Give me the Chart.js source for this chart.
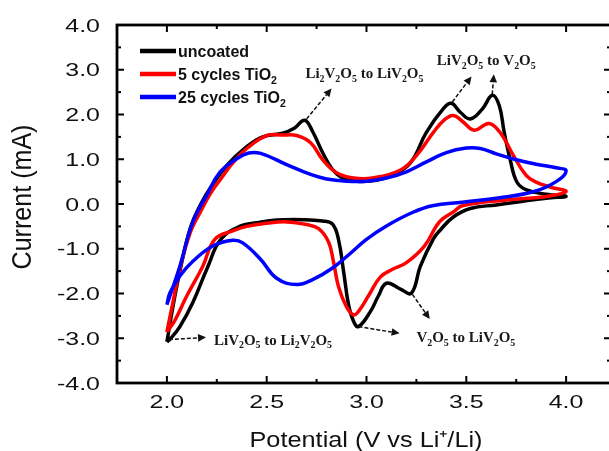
<!DOCTYPE html>
<html>
<head>
<meta charset="utf-8">
<script src="https://cdn.jsdelivr.net/npm/chart.js@4/dist/chart.umd.min.js"></script>
<style>
  html, body { margin: 0; padding: 0; overflow: hidden; background: #fff; }
</style>
</head>
<body>
<canvas id="cvChart" width="613" height="451"></canvas>
<script>
// values: potential (V) and current (mA), one closed loop per sample
const uncoatedV = [2.00, 2.03, 2.07, 2.12, 2.17, 2.215, 2.30, 2.40, 2.48, 2.58, 2.64, 2.69, 2.73, 2.78, 2.83, 2.88, 2.95, 3.05, 3.13, 3.22,
  3.30, 3.385, 3.425, 3.47, 3.52, 3.58, 3.63, 3.665, 3.69, 3.72, 3.755, 3.805, 3.90, 4.00,
  3.90, 3.75, 3.65, 3.52, 3.435, 3.37, 3.335, 3.27, 3.225, 3.17, 3.10, 3.06, 3.02, 2.96, 2.935, 2.91, 2.885, 2.86, 2.83, 2.78,
  2.68, 2.55, 2.45, 2.37, 2.27, 2.206, 2.13, 2.065, 2.02, 2.00]
const uncoatedI = [-3.08, -2.30, -1.40, -0.50, 0.00, 0.34, 0.86, 1.28, 1.50, 1.58, 1.70, 1.87, 1.62, 1.15, 0.77, 0.58, 0.51, 0.53, 0.65, 0.92,
  1.60, 2.13, 2.25, 2.05, 1.90, 2.12, 2.43, 2.20, 1.60, 0.99, 0.48, 0.31, 0.22, 0.17,
  0.13, 0.04, -0.02, -0.10, -0.29, -0.58, -0.78, -1.39, -1.99, -1.90, -1.77, -2.05, -2.40, -2.74, -2.62, -2.25, -1.50, -0.80, -0.45, -0.38,
  -0.35, -0.36, -0.42, -0.49, -0.79, -1.39, -2.20, -2.74, -3.00, -3.08]

const fiveCycleV = [2.00, 2.03, 2.07, 2.12, 2.165, 2.22, 2.27, 2.33, 2.40, 2.50, 2.58, 2.65, 2.72, 2.78, 2.85, 2.935, 3.03, 3.17, 3.25, 3.335,
  3.39, 3.435, 3.48, 3.54, 3.61, 3.65, 3.69, 3.735, 3.80, 3.85, 3.92, 4.00,
  3.90, 3.70, 3.48, 3.435, 3.38, 3.35, 3.29, 3.20, 3.13, 3.07, 3.01, 2.96, 2.935, 2.90, 2.86, 2.835, 2.81, 2.76, 2.70, 2.60,
  2.50, 2.40, 2.33, 2.24, 2.18, 2.10, 2.04, 2.00]
const fiveCycleI = [-2.86, -2.20, -1.35, -0.60, -0.20, 0.25, 0.56, 0.92, 1.24, 1.53, 1.54, 1.53, 1.37, 0.99, 0.70, 0.58, 0.58, 0.76, 1.08, 1.60,
  1.88, 1.98, 1.85, 1.65, 1.80, 1.70, 1.46, 1.09, 0.64, 0.49, 0.38, 0.28,
  0.17, 0.09, -0.04, -0.18, -0.34, -0.49, -0.94, -1.31, -1.46, -1.63, -2.05, -2.40, -2.48, -2.30, -1.85, -1.30, -0.85, -0.55, -0.46, -0.40,
  -0.43, -0.50, -0.60, -0.79, -1.39, -2.05, -2.60, -2.86]

const twentyFiveV = [2.00, 2.065, 2.13, 2.20, 2.266, 2.35, 2.41, 2.47, 2.60, 2.72, 2.80, 2.90, 3.00, 3.10, 3.20, 3.30, 3.40, 3.50, 3.57, 3.65,
  3.75, 3.85, 3.95, 4.00,
  3.95, 3.84, 3.65, 3.48, 3.33, 3.23, 3.10, 3.00, 2.92, 2.83, 2.73, 2.65, 2.55, 2.47, 2.38, 2.33, 2.23, 2.13, 2.065, 2.015, 2.00]
const twentyFiveI = [-2.25, -1.39, -0.40, 0.20, 0.71, 1.01, 1.14, 1.13, 0.88, 0.66, 0.56, 0.51, 0.51, 0.58, 0.72, 0.94, 1.15, 1.25, 1.24, 1.12,
  0.99, 0.89, 0.81, 0.74,
  0.50, 0.28, 0.13, 0.04, -0.04, -0.19, -0.49, -0.79, -1.10, -1.43, -1.69, -1.80, -1.66, -1.24, -0.87, -0.81, -0.94, -1.28, -1.61, -1.99, -2.25]

const seriesLabels = ['uncoated', '5 cycles TiO_2', '25 cycles TiO_2']
const seriesColors = ['#000000', '#ff0000', '#0000ff']

const potentialTicks = [2.0, 2.5, 3.0, 3.5, 4.0]
const potentialMinor = [2.25, 2.75, 3.25, 3.75]
const currentTicks = [-4, -3, -2, -1, 0, 1, 2, 3, 4]
const currentMinor = [-3.5, -2.5, -1.5, -0.5, 0.5, 1.5, 2.5, 3.5]

// peak labels (left edge, middle) and their arrows, in data units
const noteTexts = ['Li_2V_2O_5 to LiV_2O_5', 'LiV_2O_5 to V_2O_5', 'LiV_2O_5 to Li_2V_2O_5', 'V_2O_5 to LiV_2O_5']
const noteV = [2.694, 3.352, 2.236, 3.25]
const noteI = [2.92, 3.21, -3.03, -2.98]
const arrowFromV = [2.70, 3.43, 3.63, 2.01, 2.96, 3.23]
const arrowFromI = [1.90, 2.28, 2.45, -3.03, -2.74, -2.02]
const arrowToV = [2.825, 3.526, 3.638, 2.196, 3.166, 3.317]
const arrowToI = [2.58, 2.85, 2.90, -2.98, -2.89, -2.57]

const sans = '"Liberation Sans", Arial, sans-serif'
const serif = '"Liberation Serif", "Times New Roman", serif'

const toPoints = (v, i) => v.map((x, k) => ({ x, y: i[k] }))

// text with "_x" subscripts
function richText(ctx, str, x, y, size, family, weight) {
  const runs = []
  let buf = ''
  for (let k = 0; k < str.length; k++) {
    if (str[k] === '_' && k + 1 < str.length) {
      if (buf) runs.push([buf, false])
      runs.push([str[k + 1], true])
      buf = ''
      k++
    } else buf += str[k]
  }
  if (buf) runs.push([buf, false])
  let cx = x
  ctx.textAlign = 'left'
  ctx.textBaseline = 'alphabetic'
  for (const [t, sub] of runs) {
    const s = sub ? size * 0.66 : size
    ctx.font = `${weight} ${s}px ${family}`
    ctx.fillText(t, cx, sub ? y + size * 0.22 : y)
    cx += ctx.measureText(t).width
  }
}

function stretched(ctx, text, x, y, sx, sy, rot) {
  ctx.save()
  ctx.translate(x, y)
  if (rot) ctx.rotate(rot)
  ctx.scale(sx, sy)
  ctx.fillText(text, 0, 0)
  ctx.restore()
}

function arrow(ctx, x0, y0, x1, y1) {
  const ang = Math.atan2(y1 - y0, x1 - x0)
  const len = 8, half = 3.8
  ctx.setLineDash([4, 2])
  ctx.beginPath()
  ctx.moveTo(x0, y0)
  ctx.lineTo(x1 - Math.cos(ang) * len, y1 - Math.sin(ang) * len)
  ctx.stroke()
  ctx.setLineDash([])
  ctx.beginPath()
  ctx.moveTo(x1, y1)
  ctx.lineTo(x1 - Math.cos(ang) * len - Math.sin(ang) * half, y1 - Math.sin(ang) * len + Math.cos(ang) * half)
  ctx.lineTo(x1 - Math.cos(ang) * len + Math.sin(ang) * half, y1 - Math.sin(ang) * len - Math.cos(ang) * half)
  ctx.closePath()
  ctx.fill()
}

// frame, inward ticks, labels, legend and peak notes
const decor = {
  id: 'decor',
  afterDraw(chart) {
    const { ctx, chartArea: a, scales: { x, y } } = chart
    ctx.save()
    ctx.strokeStyle = '#000'
    ctx.fillStyle = '#111'
    ctx.lineWidth = 2
    const tick = (px, py, dx, dy) => { ctx.beginPath(); ctx.moveTo(px, py); ctx.lineTo(px + dx, py + dy); ctx.stroke() }
    potentialTicks.forEach(v => { const p = x.getPixelForValue(v); tick(p, a.bottom, 0, -7); tick(p, a.top, 0, 7) })
    potentialMinor.forEach(v => { const p = x.getPixelForValue(v); tick(p, a.bottom, 0, -4); tick(p, a.top, 0, 4) })
    currentTicks.forEach(v => { const p = y.getPixelForValue(v); tick(a.left, p, 7, 0); tick(a.right, p, -7, 0) })
    currentMinor.forEach(v => { const p = y.getPixelForValue(v); tick(a.left, p, 4, 0); tick(a.right, p, -4, 0) })
    ctx.lineWidth = 2.8
    ctx.strokeRect(a.left, a.top, a.right - a.left, a.bottom - a.top)

    // tick labels
    ctx.font = `18.5px ${sans}`
    ctx.textBaseline = 'alphabetic'
    ctx.textAlign = 'center'
    potentialTicks.forEach(v => stretched(ctx, v.toFixed(1), x.getPixelForValue(v), a.bottom + 25, 1.35, 1))
    ctx.textAlign = 'right'
    currentTicks.forEach(v => stretched(ctx, v.toFixed(1), a.left - 17, y.getPixelForValue(v) + 6.6, 1.35, 1))

    // axis titles
    ctx.font = `22px ${sans}`
    ctx.textAlign = 'center'
    stretched(ctx, 'Potential (V vs Li\u207A/Li)', (a.left + a.right) / 2 + 2, 447, 1.15, 1)
    stretched(ctx, 'Current (mA)', 31, 197, 1.14, 1.25, -Math.PI / 2)

    // legend
    seriesLabels.forEach((lab, k) => {
      const ly = a.top + 26 + k * 23
      ctx.strokeStyle = seriesColors[k]
      ctx.lineWidth = 4.5
      ctx.beginPath(); ctx.moveTo(a.left + 23, ly); ctx.lineTo(a.left + 59, ly); ctx.stroke()
      ctx.fillStyle = '#111'
      richText(ctx, lab, a.left + 61, ly + 6, 16, sans, 'bold')
    })

    // peak notes
    ctx.fillStyle = '#1a1a1a'
    noteTexts.forEach((t, k) => richText(ctx, t, x.getPixelForValue(noteV[k]), y.getPixelForValue(noteI[k]) + 5, 15, serif, 'bold'))
    ctx.strokeStyle = '#111'
    ctx.fillStyle = '#111'
    ctx.lineWidth = 1.5
    arrowFromV.forEach((v, k) => arrow(ctx, x.getPixelForValue(v), y.getPixelForValue(arrowFromI[k]),
      x.getPixelForValue(arrowToV[k]), y.getPixelForValue(arrowToI[k])))
    ctx.restore()
  }
}

const loops = [[uncoatedV, uncoatedI], [fiveCycleV, fiveCycleI], [twentyFiveV, twentyFiveI]]

new Chart(document.getElementById('cvChart'), {
  type: 'scatter',
  data: {
    datasets: loops.map(([v, i], k) => ({
      label: seriesLabels[k],
      data: toPoints(v, i),
      showLine: true,
      borderColor: seriesColors[k],
      borderWidth: 3.5,
      borderJoinStyle: 'round',
      pointRadius: 0,
      tension: 0.42,
      order: 3 - k
    }))
  },
  options: {
    responsive: false,
    animation: false,
    layout: { padding: { top: 25, right: 2, left: 0, bottom: 0 } },
    plugins: { legend: { display: false }, tooltip: { enabled: false } },
    scales: {
      x: {
        type: 'linear', min: 1.75, max: 4.225,
        afterFit: s => { s.height = 68 },
        grid: { display: false, drawTicks: false },
        border: { display: false },
        ticks: { display: false }
      },
      y: {
        type: 'linear', min: -4, max: 4,
        afterFit: s => { s.width = 117 },
        grid: { display: false, drawTicks: false },
        border: { display: false },
        ticks: { display: false }
      }
    }
  },
  plugins: [decor]
})
</script>
</body>
</html>
